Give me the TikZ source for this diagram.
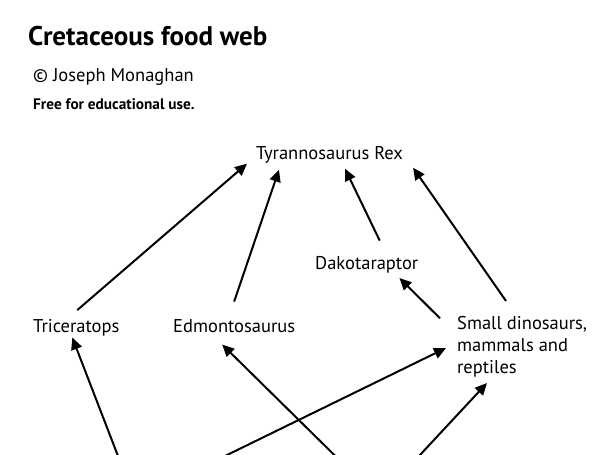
\documentclass[tikz,border=0pt]{standalone}
\usepackage{fontspec}
\setmainfont{PT Sans}
\usetikzlibrary{arrows.meta}

\begin{document}
\begin{tikzpicture}[x=1bp, y=-1bp,
    >={Triangle[length=12bp, width=11bp]},
    heading/.style={anchor=base west, inner sep=0pt},
    species/.style={anchor=base west, inner sep=0pt, text height=13bp, text depth=4bp,
      font=\fontsize{18.5bp}{21.7bp}\selectfont}]
  \useasboundingbox (0,0) rectangle (606,455);
  \clip (0,0) rectangle (606,455);

  % title block
  \node [heading, font=\fontsize{27bp}{32bp}\selectfont\bfseries] (title) at (28, 46) {Cretaceous food web};
  \node [heading, font=\fontsize{18.5bp}{22bp}\selectfont] (credit) at (33, 82) {© Joseph Monaghan};
  \node [heading, font=\fontsize{15.3bp}{18bp}\selectfont\bfseries] (free) at (33, 110) {Free for educational use.};

  % animals
  \node [species] (trex) at (256, 159.5) {Tyrannosaurus Rex};
  \node [species] (dak) at (315, 269.3) {Dakotaraptor};
  \node [species] (tri) at (33, 332.3) {Triceratops};
  \node [species] (edm) at (173, 332.3) {Edmontosaurus};
  \node [anchor=north west, inner sep=0pt, align=left,
    font=\fontsize{18.5bp}{21.7bp}\selectfont] (small) at (457, 316.3) {Small dinosaurs,\\mammals and\\reptiles};

  % sources below the edge
  \coordinate (lowL) at (135, 500);
  \coordinate (lowR) at (379, 499);

  \draw [line width = 2bp, ->] ([shift={(1,-9)}]tri.north) -- ([shift={(-9,0)}]trex.south west);
  \draw [line width = 2bp, ->] ([shift={(0,-17.5)}]edm.north) -- ([shift={(23,6)}]trex.south west);
  \draw [line width = 2bp, ->] ([shift={(13,-15.5)}]dak.north) -- ([shift={(89,5)}]trex.south west);
  \draw [line width = 2bp, ->] ([shift={(49,-15.3)}]small.north west) -- ([shift={(10,4)}]trex.south east);
  \draw [line width = 2bp, ->] ([shift={(-17,2)}]small.north west) -- ([shift={(-19,4.5)}]dak.south east);

  \draw [line width = 2bp, ->] (lowL) -- ([shift={(-4,1)}]tri.south);
  \draw [line width = 2bp, ->] (lowL) -- ([shift={(-11,31.7)}]small.north west);
  \draw [line width = 2bp, ->] (lowR) -- ([shift={(-12,8)}]edm.south);
  \draw [line width = 2bp, ->] (lowR) -- ([shift={(30,66.7)}]small.north west);
\end{tikzpicture}
\end{document}
